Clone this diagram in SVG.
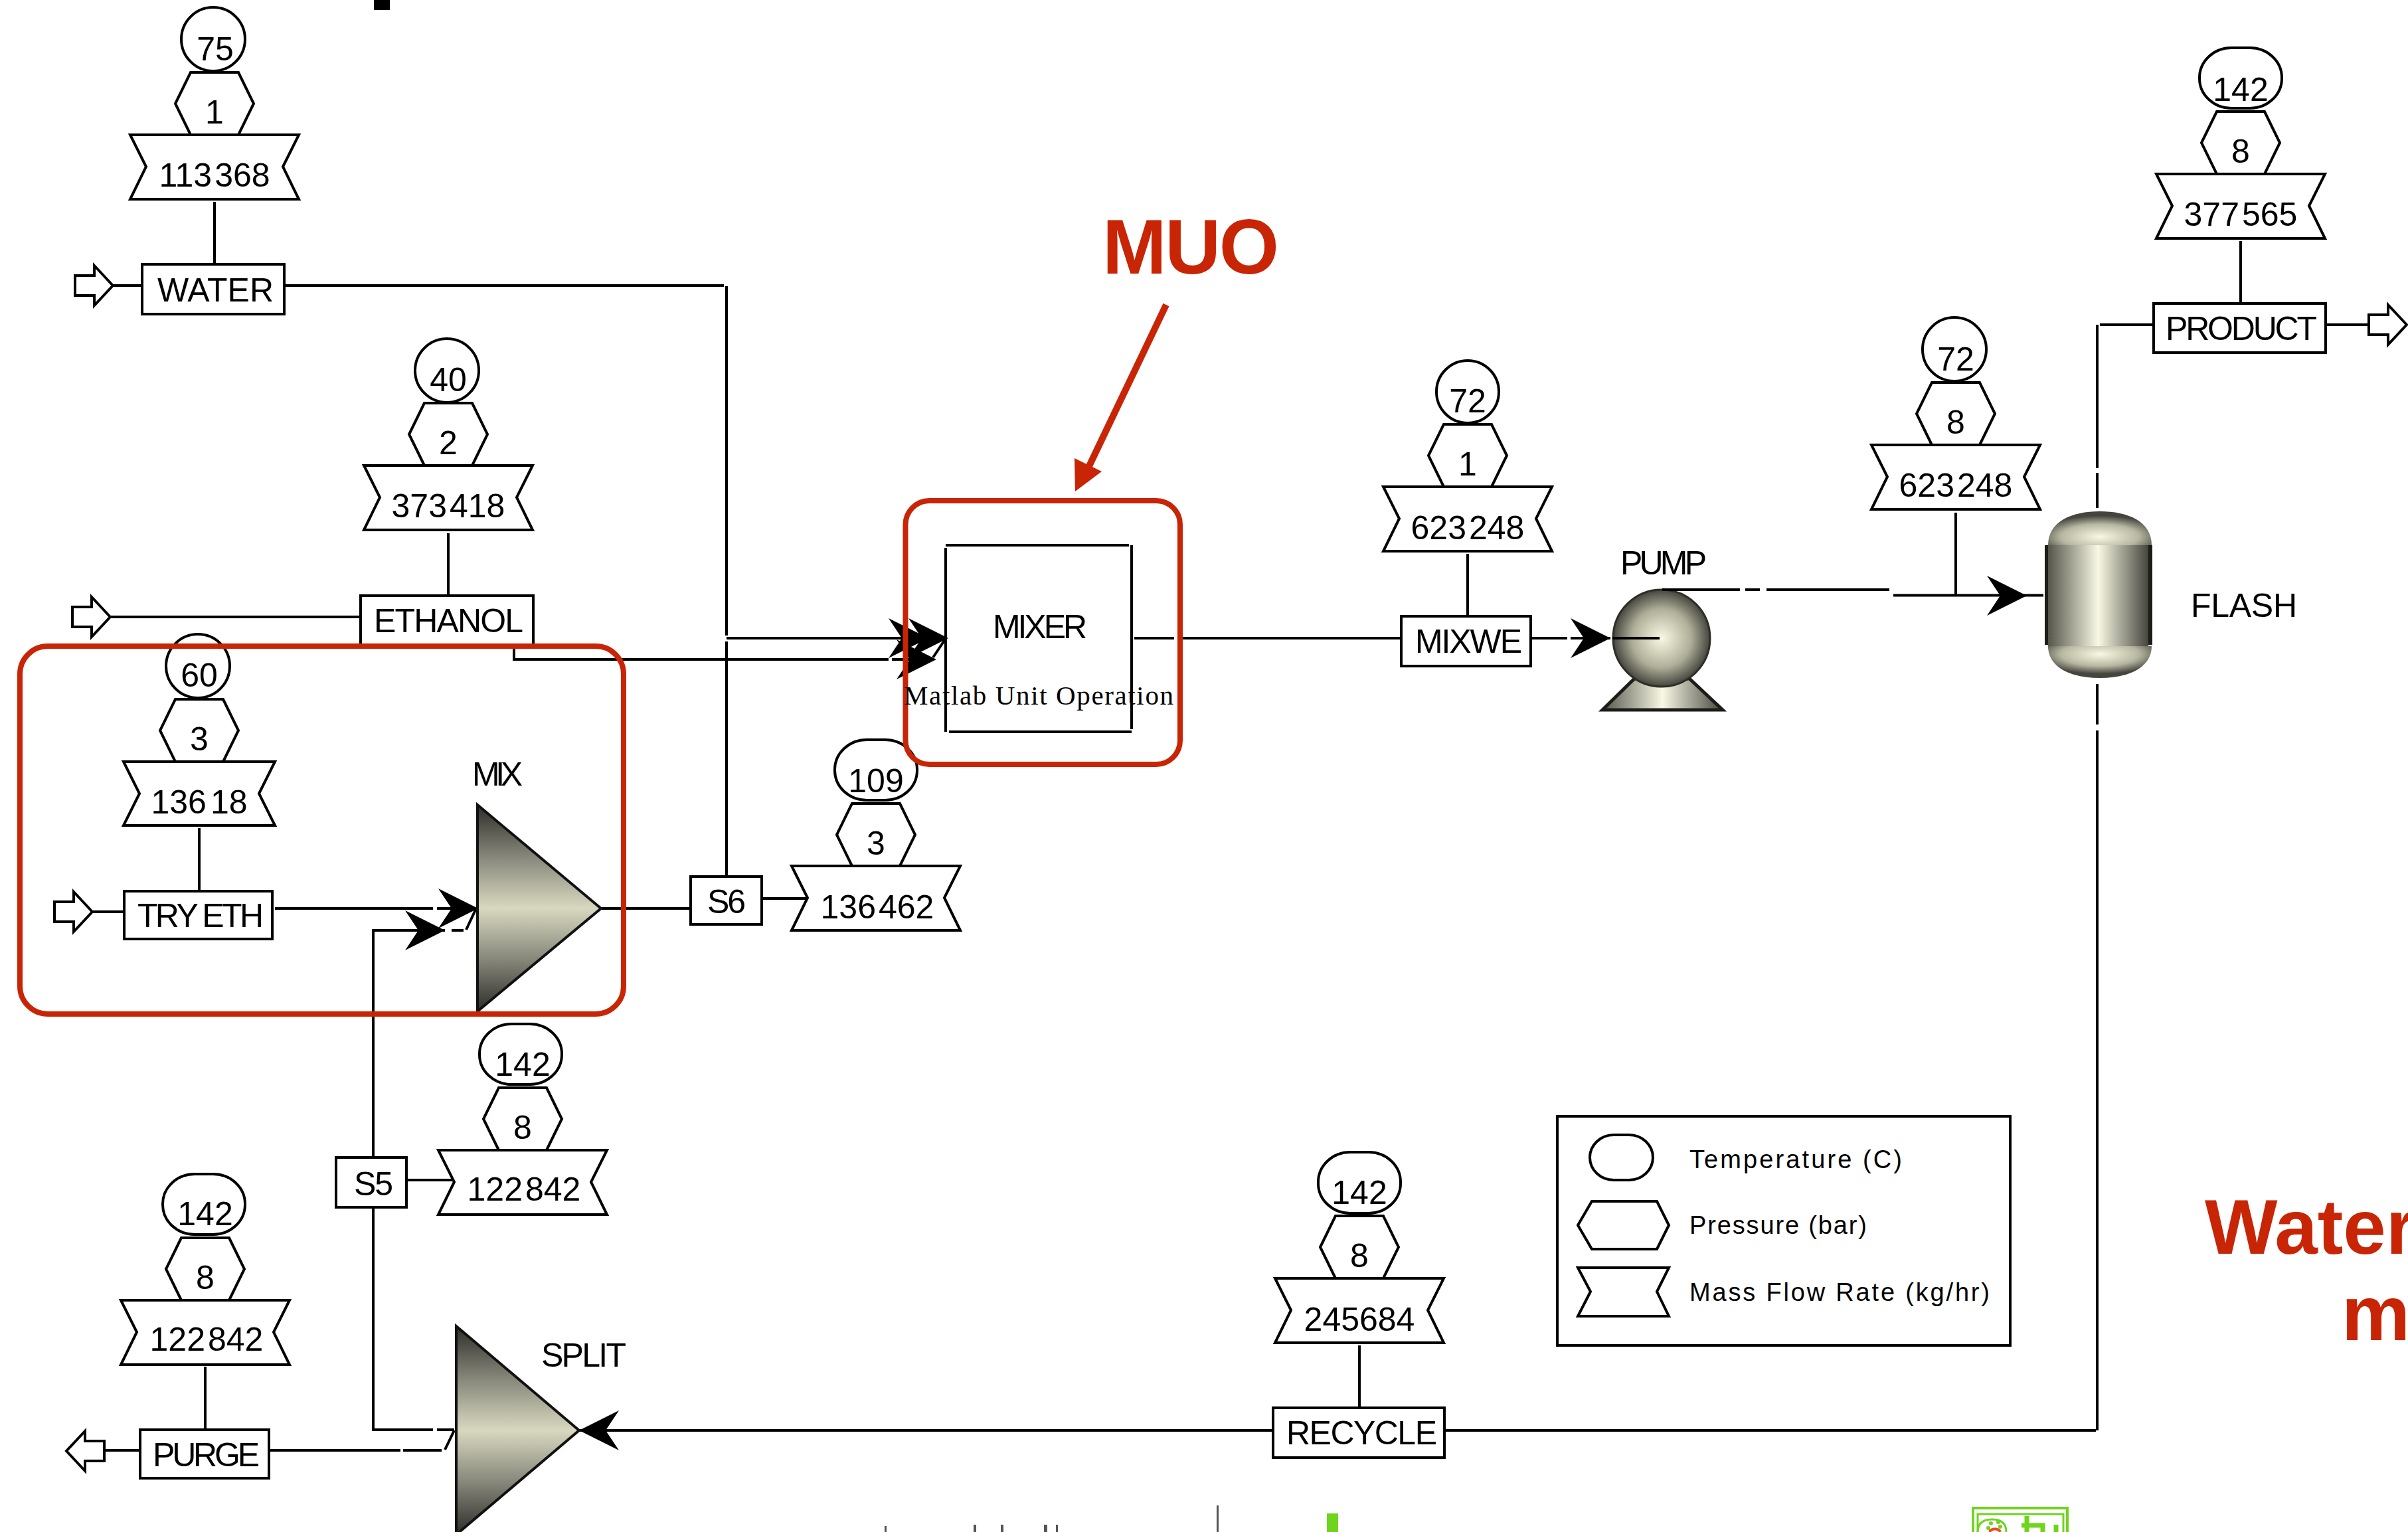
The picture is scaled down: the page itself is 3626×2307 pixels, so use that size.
<svg xmlns="http://www.w3.org/2000/svg" xmlns:xlink="http://www.w3.org/1999/xlink" width="3626" height="2307" viewBox="0 0 3626 2307">
<style>
text{font-family:"Liberation Sans",Arial,sans-serif;fill:#000}
.l{font-size:50px}
.n{font-size:50px;text-anchor:middle}
.lg{font-size:38px}
.red{font-weight:bold;font-size:116px;fill:#c82506}
.s{fill:#fff;stroke:#000;stroke-width:4}
.c{fill:none;stroke:#000;stroke-width:4}
.rb{fill:none;stroke:#c82506;stroke-width:8}
.g{fill:#6fd41e}
</style>
<defs>
<polygon id="flag" class="s" points="-127,0 127,0 103,48 127,97 -127,97 -103,48"/>
<polygon id="hex" class="s" points="-36,-94 36,-94 59,-47 36,0 -36,0 -59,-47"/>
<path id="head" d="M0,0 L-60,-30 L-40,0 L-60,30 Z" fill="#000"/>
<polygon id="feed" class="s" points="0,0 -28,-30 -28,-15 -57,-15 -57,15 -28,15 -28,30"/>
<linearGradient id="tri" x1="0" y1="0" x2="0" y2="1">
<stop offset="0" stop-color="#2e2e2a"/><stop offset=".25" stop-color="#86867a"/><stop offset=".5" stop-color="#d8d8c0"/><stop offset=".75" stop-color="#86867a"/><stop offset="1" stop-color="#2e2e2a"/>
</linearGradient>
<radialGradient id="ball" cx=".5" cy=".5" r=".5">
<stop offset="0" stop-color="#f8f8e4"/><stop offset=".6" stop-color="#b0b09a"/><stop offset="1" stop-color="#45453e"/>
</radialGradient>
<linearGradient id="side" x1="0" y1="0" x2="1" y2="0">
<stop offset="0" stop-color="#55554c"/><stop offset=".5" stop-color="#f8f8e4"/><stop offset="1" stop-color="#45453e"/>
</linearGradient>
<radialGradient id="cap" cx=".5" cy=".75" r=".62">
<stop offset="0" stop-color="#f8f8e4"/><stop offset=".6" stop-color="#b8b8a2"/><stop offset="1" stop-color="#45453e"/>
</radialGradient>
<radialGradient id="capb" cx=".5" cy=".25" r=".62">
<stop offset="0" stop-color="#f8f8e4"/><stop offset=".6" stop-color="#b8b8a2"/><stop offset="1" stop-color="#45453e"/>
</radialGradient>
</defs>
<rect width="3626" height="2307" fill="#fff"/>
<rect x="563" y="0" width="24" height="15" fill="#000"/>

<g id="connectors">
<path class="c" d="M170,430H213M429,430H1090M1094,431V957M1094,966V1318"/>
<path class="c" d="M166,929H543M774,973V993H1338M1343,993H1405"/>
<path class="c" d="M1094,961H1420M1405,990L1423,963"/>
<path class="c" d="M1708,961H1768M1773,961H2109M2305,961H2360M2365,961H2425"/>
<path class="c" d="M2503,888H2620M2628,888H2650M2660,888H2845M2851,896.500H3052M2945,772V896M3040,896.500H3077"/>
<path class="c" d="M3158,489V705M3158,712V765M3158,1030V1091M3158,1100V2154M3162,489H3242M3502,489H3567"/>
<path class="c" d="M139,1373H187M414,1368H652M658,1368H720M562,1743V1401H670M680,1401H698M702,1400L717,1368"/>
<path class="c" d="M905,1368H1040M1147,1353H1218M612,1777H684M562,1818V2153H652M658,2153H684"/>
<path class="c" d="M158,2184H209M405,2184H603M607,2184H665M670,2183L684,2154"/>
<path class="c" d="M872,2154H1917M2175,2154H3156"/>
<path class="c" d="M323,304V398M675,803V897M300,1247V1342M309,2058V2153M2210,834V928M2047,2026V2120M3374,363V457"/>
<use href="#head" transform="translate(1398,961)"/>
<use href="#head" transform="translate(1428,961)"/>
<use href="#head" transform="translate(1410,993)"/>
<use href="#head" transform="translate(2425,961)"/>
<use href="#head" transform="translate(3052,897)"/>
<use href="#head" transform="translate(720,1368)"/>
<use href="#head" transform="translate(670,1401)"/>
<use href="#head" transform="translate(872,2154) rotate(180)"/>
</g>

<g id="tag-water" transform="translate(323,203)">
<circle class="s" cx="-2" cy="-144" r="48"/><use href="#hex"/><use href="#flag"/>
<text class="n" x="1" y="-112">75</text><text class="n" y="-17">1</text><text class="n" y="78">113<tspan dx="4">368</tspan></text>
</g>
<g id="tag-ethanol" transform="translate(675,701)">
<circle class="s" cx="-2" cy="-143" r="48"/><use href="#hex"/><use href="#flag"/>
<text class="n" y="-112">40</text><text class="n" y="-17">2</text><text class="n" y="78">373<tspan dx="4">418</tspan></text>
</g>
<g id="tag-tryeth" transform="translate(300,1147)">
<circle class="s" cx="-2" cy="-144" r="48"/><use href="#hex"/><polygon class="s" points="-114,0 114,0 90,48 114,96 -114,96 -90,48"/>
<text class="n" y="-113">60</text><text class="n" y="-17">3</text><text class="n" y="78">136<tspan dx="6">18</tspan></text>
</g>
<g id="tag-s6" transform="translate(1319,1304)">
<rect class="s" x="-62" y="-190" width="124" height="91" rx="48" ry="45"/><use href="#hex"/><use href="#flag"/>
<text class="n" y="-111">109</text><text class="n" y="-17">3</text><text class="n" x="2" y="79">136<tspan dx="4">462</tspan></text>
</g>
<g id="tag-mixwe" transform="translate(2210,733)">
<circle class="s" cx="0" cy="-143" r="47"/><use href="#hex"/><use href="#flag"/>
<text class="n" x="0" y="-112">72</text><text class="n" y="-17">1</text><text class="n" y="79">623<tspan dx="4">248</tspan></text>
</g>
<g id="tag-pump" transform="translate(2945,670)">
<circle class="s" cx="-2" cy="-144" r="48"/><use href="#hex"/><use href="#flag"/>
<text class="n" y="-112">72</text><text class="n" y="-17">8</text><text class="n" y="78">623<tspan dx="4">248</tspan></text>
</g>
<g id="tag-product" transform="translate(3374,262)">
<rect class="s" x="-62" y="-190" width="124" height="91" rx="48" ry="45"/><use href="#hex"/><use href="#flag"/>
<text class="n" y="-110">142</text><text class="n" y="-17">8</text><text class="n" y="78">377<tspan dx="4">565</tspan></text>
</g>
<g id="tag-s5" transform="translate(787,1732)">
<rect class="s" x="-65" y="-190" width="124" height="91" rx="48" ry="45"/><use href="#hex"/><use href="#flag"/>
<text class="n" y="-112">142</text><text class="n" y="-17">8</text><text class="n" x="2" y="76">122<tspan dx="4">842</tspan></text>
</g>
<g id="tag-purge" transform="translate(309,1958)">
<rect class="s" x="-64" y="-190" width="124" height="91" rx="48" ry="45"/><use href="#hex"/><use href="#flag"/>
<text class="n" y="-113">142</text><text class="n" y="-17">8</text><text class="n" x="2" y="76">122<tspan dx="4">842</tspan></text>
</g>
<g id="tag-recycle" transform="translate(2047,1925)">
<rect class="s" x="-62" y="-190" width="124" height="92" rx="48" ry="45"/><use href="#hex"/><use href="#flag"/>
<text class="n" y="-112">142</text><text class="n" y="-17">8</text><text class="n" y="79">245684</text>
</g>

<g id="WATER"><use href="#feed" transform="translate(170,430)"/><rect class="s" x="214" y="398" width="214" height="75"/><text class="l" x="237" y="454" textLength="175">WATER</text></g>
<g id="ETHANOL"><use href="#feed" transform="translate(166,929)"/><rect class="s" x="543" y="897" width="260" height="74"/><text class="l" x="563" y="952" textLength="225">ETHANOL</text></g>
<g id="TRYETH"><use href="#feed" transform="translate(139,1373)"/><rect class="s" x="187" y="1342" width="223" height="72"/><text class="l" x="207" y="1396" textLength="190">TRY ETH</text></g>
<g id="S6"><rect class="s" x="1040" y="1320" width="107" height="72"/><text class="l" x="1065" y="1375" textLength="58">S6</text></g>
<g id="S5"><rect class="s" x="506" y="1743" width="106" height="75"/><text class="l" x="533" y="1800" textLength="59">S5</text></g>
<g id="PURGE"><use href="#feed" transform="translate(100,2185) rotate(180)"/><rect class="s" x="211" y="2153" width="194" height="73"/><text class="l" x="230" y="2208" textLength="161">PURGE</text></g>
<g id="RECYCLE"><rect class="s" x="1917" y="2120" width="258" height="75"/><text class="l" x="1937" y="2175" textLength="227">RECYCLE</text></g>
<g id="MIXWE"><rect class="s" x="2110" y="928" width="195" height="75"/><text class="l" x="2131" y="983" textLength="161">MIXWE</text></g>
<g id="PRODUCT"><rect class="s" x="3243" y="457" width="259" height="74"/><text class="l" x="3261" y="512" textLength="228">PRODUCT</text><use href="#feed" transform="translate(3624,489)"/></g>

<g id="MIXER">
<path class="c" d="M1424,825V1102M1424,821H1700M1704,821V1098M1429,1102H1704"/>
<text class="l" x="1495" y="961" textLength="142">MIXER</text>
</g>
<g id="MIX"><polygon points="719,1212 905,1368 719,1523" fill="url(#tri)" stroke="#111" stroke-width="4"/><text class="l" x="711" y="1183" textLength="76">MIX</text></g>
<g id="SPLIT"><polygon points="687,1997 872,2154 687,2311" fill="url(#tri)" stroke="#111" stroke-width="4"/><text class="l" x="815" y="2058" textLength="128">SPLIT</text></g>
<g id="PUMP">
<polygon points="2461,1022 2544,1022 2594,1069 2413,1069" fill="url(#side)" stroke="#1c1c18" stroke-width="5"/>
<circle cx="2502" cy="961" r="73" fill="url(#ball)" stroke="#2e2e28" stroke-width="3"/>
<path class="c" d="M2428,961H2499M2503,888H2560"/>
<text class="l" x="2440" y="865" textLength="130">PUMP</text>
</g>
<g id="FLASH">
<rect x="3079" y="821" width="162" height="150" fill="#1c1c18"/>
<path d="M3084,821 C3084,785 3120,770 3162,770 C3204,770 3240,785 3240,821 Z" fill="url(#cap)"/>
<path d="M3084,973 C3084,1006 3120,1021 3162,1021 C3204,1021 3240,1006 3240,973 Z" fill="url(#capb)"/>
<rect x="3084" y="821" width="151" height="152" fill="url(#side)"/>
<text class="l" x="3299" y="929" textLength="160">FLASH</text>
</g>

<g id="legend">
<rect class="s" x="2345" y="1681" width="682" height="345"/>
<rect class="s" x="2394" y="1709" width="95" height="68" rx="36" ry="34"/>
<polygon class="s" points="2397,1809 2495,1809 2513,1845 2495,1881 2397,1881 2376,1845"/>
<polygon class="s" points="2376,1909 2513,1909 2495,1945 2513,1982 2376,1982 2395,1945"/>
<text class="lg" x="2544" y="1759" textLength="320">Temperature (C)</text>
<text class="lg" x="2544" y="1858" textLength="267">Pressure (bar)</text>
<text class="lg" x="2544" y="1959" textLength="452">Mass Flow Rate (kg/hr)</text>
</g>

<rect class="rb" x="30" y="973" width="909" height="554" rx="42"/>
<rect class="rb" x="1363.500" y="754" width="413.500" height="397" rx="36"/>
<text x="1361" y="1061" textLength="406" style="font-family:'Liberation Serif',serif;font-size:41px">Matlab Unit Operation</text>

<g id="callouts">
<text class="red" x="1660" y="412" textLength="266">MUO</text>
<line x1="1756" y1="459" x2="1640" y2="702" stroke="#c82506" stroke-width="10"/>
<polygon points="1619,740 1618,690 1659,710" fill="#c82506"/>
<text class="red" x="3320" y="1888">Water</text>
<text class="red" x="3526" y="2018">m</text>
</g>

<g id="footer-fragments">
<rect x="1332" y="2298" width="3" height="9" fill="#555"/>
<rect x="1466" y="2296" width="4" height="11" fill="#555"/><rect x="1507" y="2296" width="4" height="11" fill="#555"/>
<rect x="1572" y="2296" width="5" height="11" fill="#555"/><rect x="1590" y="2296" width="3" height="11" fill="#555"/>
<rect x="1832" y="2267" width="3" height="40" fill="#50565a"/>
<rect class="g" x="1998" y="2279" width="17" height="28"/>
<path d="M2971,2307V2271H3113V2307" fill="none" stroke="#6fd41e" stroke-width="4"/>
<path d="M2978,2307V2280H3107V2307" fill="none" stroke="#6fd41e" stroke-width="3"/>
<path d="M2978,2307C2978,2295 2985,2288 3000,2288C3015,2288 3021,2295 3021,2307" fill="none" stroke="#6fd41e" stroke-width="3"/>
<circle class="g" cx="2998" cy="2294" r="3"/><circle class="g" cx="3009" cy="2292" r="3"/><circle class="g" cx="3012" cy="2299" r="3"/><circle class="g" cx="2994" cy="2301" r="3"/>
<path d="M2996,2307C2998,2301 3010,2301 3012,2307" fill="none" stroke="#e8501c" stroke-width="4"/>
<path d="M3052,2283V2307M3044,2297H3076V2307M3096,2296V2307" fill="none" stroke="#6fd41e" stroke-width="7"/>
</g>
</svg>
